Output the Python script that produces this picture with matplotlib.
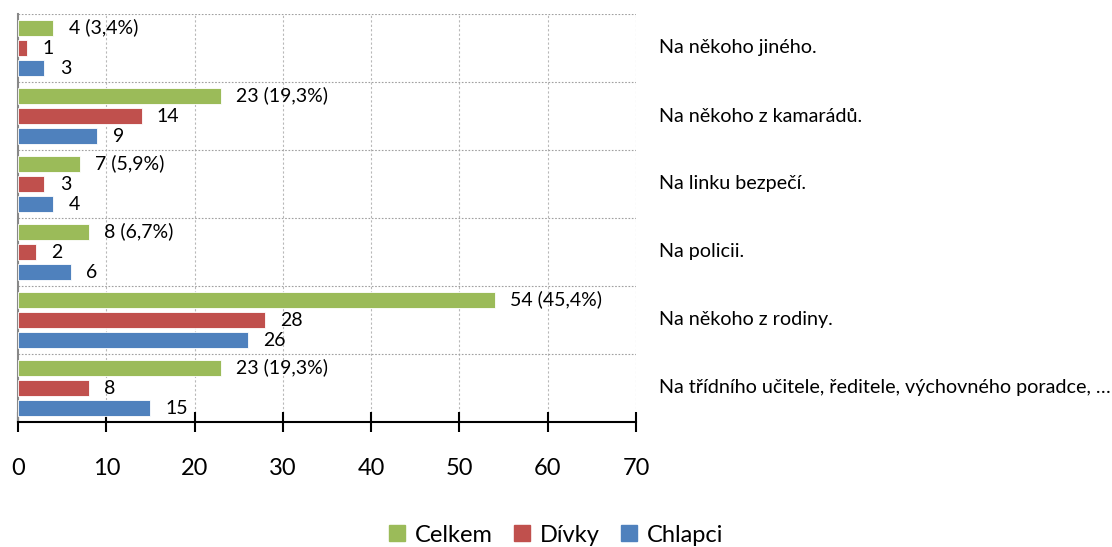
import matplotlib
matplotlib.use("Agg")
import matplotlib.pyplot as plt
from matplotlib.lines import Line2D
import numpy as np

plt.rcParams['font.family'] = ['Lato', 'DejaVu Sans']

categories = [
    "Na někoho jiného.",
    "Na někoho z kamarádů.",
    "Na linku bezpečí.",
    "Na policii.",
    "Na někoho z rodiny.",
    "Na třídního učitele, ředitele, výchovného poradce, …",
]
celkem = [4, 23, 7, 8, 54, 23]
celkem_pct = ["3,4%", "19,3%", "5,9%", "6,7%", "45,4%", "19,3%"]
divky = [1, 14, 3, 2, 28, 8]
chlapci = [3, 9, 4, 6, 26, 15]
xticks = [0, 10, 20, 30, 40, 50, 60, 70]
series_names = ["Celkem", "Dívky", "Chlapci"]
colors = ["#9BBB59", "#C0504D", "#4F81BD"]

fig = plt.figure(figsize=(11.12, 5.47), dpi=100)
ax = fig.add_axes([18/1112, 1-422/547, (636-18)/1112, (422-14)/547])

n = len(categories)
ypos = np.arange(n)[::-1]  # top category highest
off = 0.3
h = 0.235

series = [celkem, divky, chlapci]
offsets = [off, 0, -off]
for vals, c, o in zip(series, colors, offsets):
    ax.barh(ypos + o, vals, height=h, color=c, edgecolor='white', linewidth=0.6, zorder=3)

fs_lab = 14
for i in range(n):
    y = ypos[i]
    ax.annotate(f"{celkem[i]} ({celkem_pct[i]})", (celkem[i], y + off), xytext=(11, 0),
                textcoords='offset points', va='center', ha='left', fontsize=fs_lab)
    ax.annotate(f"{divky[i]}", (divky[i], y), xytext=(11, 0),
                textcoords='offset points', va='center', ha='left', fontsize=fs_lab)
    ax.annotate(f"{chlapci[i]}", (chlapci[i], y - off), xytext=(11, 0),
                textcoords='offset points', va='center', ha='left', fontsize=fs_lab)
    ax.text(1.037, (y + 0.5) / n, categories[i], transform=ax.transAxes,
            va='center', ha='left', fontsize=14.2)

ax.set_xlim(0, 70)
ax.set_ylim(-0.5, n - 0.5)
ax.set_xticks(xticks)
ax.set_xticklabels([str(t) for t in xticks], fontsize=17)
ax.set_yticks([])
ax.tick_params(axis='x', direction='inout', length=14, width=1.5, pad=19, color='black')

for x in xticks[1:]:
    ax.axvline(x, color='#b8b8b8', linestyle=(0, (2, 2)), linewidth=0.8, zorder=1)
for yb in np.arange(n) + 0.5:
    ax.axhline(yb, color='#a0a0a0', linestyle=(0, (1.5, 1.5)), linewidth=0.8, zorder=1)

ax.spines['top'].set_visible(False)
ax.spines['right'].set_visible(False)
ax.spines['left'].set_color('#888888')
ax.spines['left'].set_linewidth(1.5)
ax.spines['bottom'].set_color('black')
ax.spines['bottom'].set_linewidth(1.5)

handles = [Line2D([0], [0], marker='s', linestyle='none', markersize=11.5,
                  markerfacecolor=c, markeredgecolor=c) for c in colors]
fig.legend(handles, series_names, loc='center', bbox_to_anchor=(0.5, 1-535/547),
           ncol=3, frameon=False, fontsize=17, handlelength=0.7, handletextpad=0.4,
           columnspacing=0.9)

fig.savefig("out.png", dpi=100)
